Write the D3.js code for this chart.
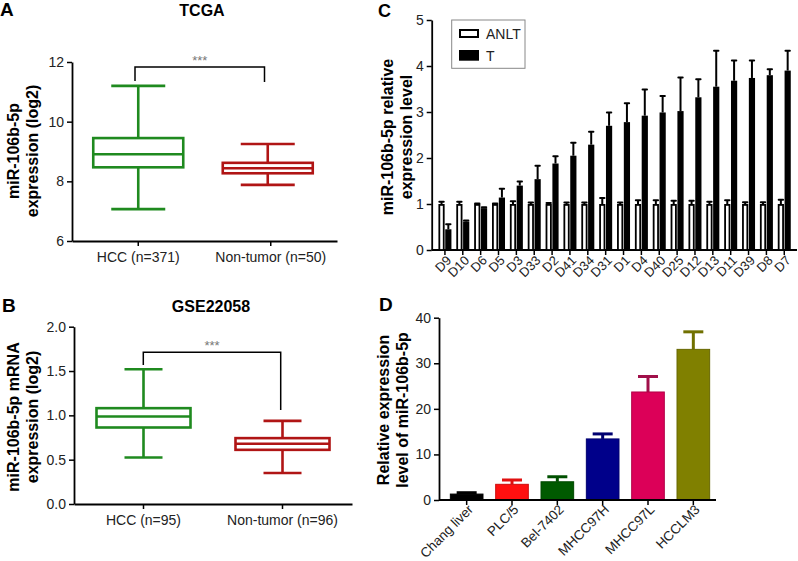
<!DOCTYPE html>
<html><head><meta charset="utf-8">
<script src="https://cdn.jsdelivr.net/npm/d3@7"></script>
<style>
body{margin:0;background:#fff;}
svg{display:block;font-family:"Liberation Sans",Arial,Helvetica,sans-serif;}
</style></head>
<body><svg id="c" width="798" height="561"></svg>
<script>
// ---------- DATA ----------
// Panel A (TCGA) box stats: [min, q1, median, q3, max]
const boxCatsA = ["HCC (n=371)", "Non-tumor (n=50)"];
const boxStatsA = [[7.07, 8.47, 8.91, 9.45, 11.2], [7.88, 8.27, 8.44, 8.62, 9.25]];
const yTicksA = [6, 8, 10, 12];
// Panel B (GSE22058)
const boxCatsB = ["HCC (n=95)", "Non-tumor (n=96)"];
const boxStatsB = [[0.525, 0.863, 0.987, 1.081, 1.52], [0.349, 0.611, 0.679, 0.743, 0.938]];
const yTicksB = [0, 0.5, 1.0, 1.5, 2.0];
const boxColors = ["#1f8a1f", "#b01515"];
// Panel C
const samplesC = ["D9","D10","D6","D5","D3","D33","D2","D41","D34","D31","D1","D4","D40","D25","D12","D13","D11","D39","D8","D7"];
const anltC = [1,1,1,1,1,1,1,1,1,1,1,1,1,1,1,1,1,1,1,1];
const anltErrC = [1.05,1.05,1.01,1.01,1.06,1.03,1.02,1.03,1.03,1.13,1.03,1.08,1.08,1.07,1.07,1.05,1.08,1.04,1.04,1.09];
const tC = [0.45,0.62,0.91,1.14,1.40,1.54,1.88,2.05,2.29,2.70,2.78,2.92,2.99,3.02,3.32,3.55,3.68,3.74,3.80,3.90];
const tErrC = [0.56,0.64,0.93,1.33,1.49,1.83,2.04,2.33,2.57,2.99,3.19,3.49,3.35,3.75,3.71,4.33,4.12,4.12,3.93,4.33];
const yTicksC = [0,1,2,3,4,5];
const legendC = ["ANLT", "T"];
// Panel D
const cellsD = ["Chang liver","PLC/5","Bel-7402","MHCC97H","MHCC97L","HCCLM3"];
const valD = [1.3, 3.44, 4.0, 13.4, 23.7, 33.05];
const errD = [1.6, 4.39, 5.1, 14.5, 27.1, 36.9];
const colD = ["#000000","#ff1010","#005a00","#00008a","#dc0058","#808000"];
const errColD = ["#000000","#e01010","#005000","#000070","#a0104a","#707000"];
const yTicksD = [0,10,20,30,40];

const svg = d3.select("#c");
const F = '"Liberation Sans",Arial,Helvetica,sans-serif';
const TICK_FS = 14;

function yAxis(g, scale, ticks, fmt){
  const ax = d3.axisLeft(scale).tickValues(ticks).tickSize(5).tickPadding(3).tickSizeOuter(0).tickFormat(fmt);
  g.call(ax);
  g.select(".domain").attr("stroke","#000").attr("stroke-width",1.8);
  g.selectAll(".tick line").attr("stroke","#000").attr("stroke-width",1.5);
  g.selectAll(".tick text").attr("font-size",TICK_FS).attr("fill","#222").attr("font-family",F);
}
function label(x,y,t,size,weight,anchor,fill){
  return svg.append("text").attr("x",x).attr("y",y).text(t)
    .attr("font-size",size).attr("font-weight",weight||"normal")
    .attr("text-anchor",anchor||"start").attr("fill",fill||"#000").attr("font-family",F);
}
function rotLabel(cx,cy,lines,xs,size){
  lines.forEach((l,i)=>{
    svg.append("text").attr("transform",`translate(${xs[i]},${cy}) rotate(-90)`)
      .attr("text-anchor","middle").attr("font-size",size).attr("font-weight","bold")
      .attr("font-family",F).text(l);
  });
}

// ---------- Box panels ----------
function boxPanel(o){
  const y = d3.scaleLinear().domain(o.dom).range([o.y0,o.y1]);
  const x = d3.scaleBand().domain(o.cats).range([o.x0,o.x1]);
  const g = svg.append("g");
  yAxis(g.append("g").attr("transform",`translate(${o.x0},0)`), y, o.ticks, o.fmt);
  const xa = g.append("g").attr("transform",`translate(0,${o.y0})`)
    .call(d3.axisBottom(x).tickSize(5).tickPadding(6).tickSizeOuter(0));
  xa.select(".domain").attr("stroke","#000").attr("stroke-width",1.8);
  xa.selectAll(".tick line").attr("stroke","#000").attr("stroke-width",1.5);
  xa.selectAll(".tick text").attr("font-size",TICK_FS).attr("fill","#222").attr("font-family",F);
  o.stats.forEach((s,i)=>{
    const cx = x(o.cats[i]) + x.bandwidth()/2 + o.shift[i];
    const c = boxColors[i], bw = o.bw, cw = o.cw;
    const bg = g.append("g").attr("stroke",c).attr("stroke-width",2.6).attr("fill","none");
    bg.append("line").attr("x1",cx).attr("x2",cx).attr("y1",y(s[0])).attr("y2",y(s[1]));
    bg.append("line").attr("x1",cx).attr("x2",cx).attr("y1",y(s[3])).attr("y2",y(s[4]));
    bg.append("line").attr("x1",cx-cw/2).attr("x2",cx+cw/2).attr("y1",y(s[0])).attr("y2",y(s[0]));
    bg.append("line").attr("x1",cx-cw/2).attr("x2",cx+cw/2).attr("y1",y(s[4])).attr("y2",y(s[4]));
    bg.append("rect").attr("x",cx-bw/2).attr("width",bw).attr("y",y(s[3])).attr("height",y(s[1])-y(s[3]));
    bg.append("line").attr("x1",cx-bw/2).attr("x2",cx+bw/2).attr("y1",y(s[2])).attr("y2",y(s[2]));
  });
  const b = o.br;
  g.append("path").attr("d",`M${b.xl},${b.yl}V${b.yt}H${b.xr}V${b.yr}`)
    .attr("fill","none").attr("stroke","#000").attr("stroke-width",1.5);
  label((b.xl+b.xr)/2, b.yt-2, "***", 13, "normal", "middle", "#777");
  return {x,y};
}

boxPanel({cats:boxCatsA, stats:boxStatsA, dom:[6,12], ticks:yTicksA, fmt:d3.format("d"),
  x0:72, x1:337, y0:241, y1:62, bw:90, cw:54, shift:[0,-3],
  br:{xl:135, yl:81, yt:67, xr:264.5, yr:82}});
label(202,16,"TCGA",16,"bold","middle");
label(0,16,"A",19,"bold","start");
rotLabel(0,151,["miR-106b-5p","expression (log2)"],[19,38],16);

boxPanel({cats:boxCatsB, stats:boxStatsB, dom:[0,2], ticks:yTicksB, fmt:d3.format(".1f"),
  x0:74, x1:352, y0:504, y1:326.7, bw:94, cw:38, shift:[0,0],
  br:{xl:143.3, yl:365, yt:352.3, xr:280.7, yr:410}});
label(211,312,"GSE22058",16,"bold","middle");
label(2,312,"B",19,"bold","start");
rotLabel(0,417,["miR-106b-5p mRNA","expression (log2)"],[19,38],16);

// ---------- Panel C ----------
(function(){
  const y = d3.scaleLinear().domain([0,5]).range([250,20]);
  const x = d3.scaleBand().domain(samplesC).range([436,793.2]);
  const g = svg.append("g");
  yAxis(g.append("g").attr("transform","translate(431.7,0)"), y, yTicksC, d3.format("d"));
  const xa = g.append("g").attr("transform","translate(0,250)")
    .call(d3.axisBottom(x).tickSize(5).tickSizeOuter(0).tickFormat(""));
  xa.select(".domain").remove();
  xa.selectAll(".tick line").attr("stroke","#000").attr("stroke-width",1.5);
  g.append("line").attr("x1",431.7).attr("x2",797).attr("y1",250).attr("y2",250).attr("stroke","#000").attr("stroke-width",1.8);
  const bw = 6.2;
  samplesC.forEach((s,i)=>{
    const cx = x(s)+x.bandwidth()/2;
    [[cx-bw/2-0.3, anltC[i], anltErrC[i]],[cx+bw/2+0.3, tC[i], tErrC[i]]].forEach(e=>{
      g.append("line").attr("x1",e[0]).attr("x2",e[0]).attr("y1",y(e[1])).attr("y2",y(e[2])).attr("stroke","#000").attr("stroke-width",2);
      g.append("line").attr("x1",e[0]-2.2).attr("x2",e[0]+2.2).attr("y1",y(e[2])).attr("y2",y(e[2])).attr("stroke","#000").attr("stroke-width",2).attr("stroke-linecap","round");
    });
    g.append("rect").attr("x",cx-bw-0.3+0.9).attr("width",bw-1.8).attr("y",y(anltC[i])+0.9).attr("height",y(0)-y(anltC[i])-0.9)
      .attr("fill","#fff").attr("stroke","#000").attr("stroke-width",1.8);
    g.append("rect").attr("x",cx+0.3).attr("width",bw).attr("y",y(tC[i])).attr("height",y(0)-y(tC[i])).attr("fill","#000");
    g.append("text").attr("transform",`translate(${cx+4},${258}) rotate(-45)`)
      .attr("text-anchor","end").attr("dy","0.35em").attr("font-size",13).attr("fill","#222").attr("font-family",F).text(s);
  });
  g.append("rect").attr("x",451.7).attr("y",20).attr("width",73.3).attr("height",48.3).attr("fill","#fff").attr("stroke","#888").attr("stroke-width",1);
  g.append("rect").attr("x",460).attr("y",30).attr("width",18).attr("height",7).attr("fill","#fff").attr("stroke","#000").attr("stroke-width",2);
  g.append("rect").attr("x",459).attr("y",50).attr("width",20).attr("height",10.7).attr("fill","#000");
  label(486,38.5,legendC[0],14,"normal","start","#222");
  label(486,60.5,legendC[1],14,"normal","start","#222");
  label(378,17,"C",18,"bold","start");
  rotLabel(0,137,["miR-106b-5p relative","expression level"],[393,412],16);
})();

// ---------- Panel D ----------
(function(){
  const y = d3.scaleLinear().domain([0,40]).range([500,317.7]);
  const x = d3.scaleBand().domain(cellsD).range([444,716]).paddingInner(0.28).paddingOuter(0.14);
  const g = svg.append("g");
  yAxis(g.append("g").attr("transform","translate(439,0)"), y, yTicksD, d3.format("d"));
  cellsD.forEach((c,i)=>{
    const cx = x(c)+x.bandwidth()/2;
    g.append("line").attr("x1",cx).attr("x2",cx).attr("y1",y(valD[i])).attr("y2",y(errD[i])).attr("stroke",errColD[i]).attr("stroke-width",3);
    g.append("line").attr("x1",cx-10).attr("x2",cx+10).attr("y1",y(errD[i])).attr("y2",y(errD[i])).attr("stroke",errColD[i]).attr("stroke-width",3);
    g.append("rect").attr("x",x(c)).attr("width",x.bandwidth()).attr("y",y(valD[i])).attr("height",y(0)-y(valD[i]))
      .attr("fill",colD[i]).attr("stroke",d3.color(colD[i]).darker(0.6)).attr("stroke-width",1);
    g.append("text").attr("transform",`translate(${cx+4},${507}) rotate(-45)`)
      .attr("text-anchor","end").attr("dy","0.35em").attr("font-size",13.5).attr("fill","#222").attr("font-family",F).text(c);
  });
  const xa = g.append("g").attr("transform","translate(0,500)")
    .call(d3.axisBottom(x).tickSize(5).tickSizeOuter(0).tickFormat(""));
  xa.select(".domain").remove();
  xa.selectAll(".tick line").attr("stroke","#000").attr("stroke-width",1.5);
  g.append("line").attr("x1",439).attr("x2",716).attr("y1",500).attr("y2",500).attr("stroke","#000").attr("stroke-width",1.8);
  label(379,311,"D",19,"bold","start");
  rotLabel(0,410,["Relative expression","level of miR-106b-5p"],[389,408],16);
})();
</script></body></html>
